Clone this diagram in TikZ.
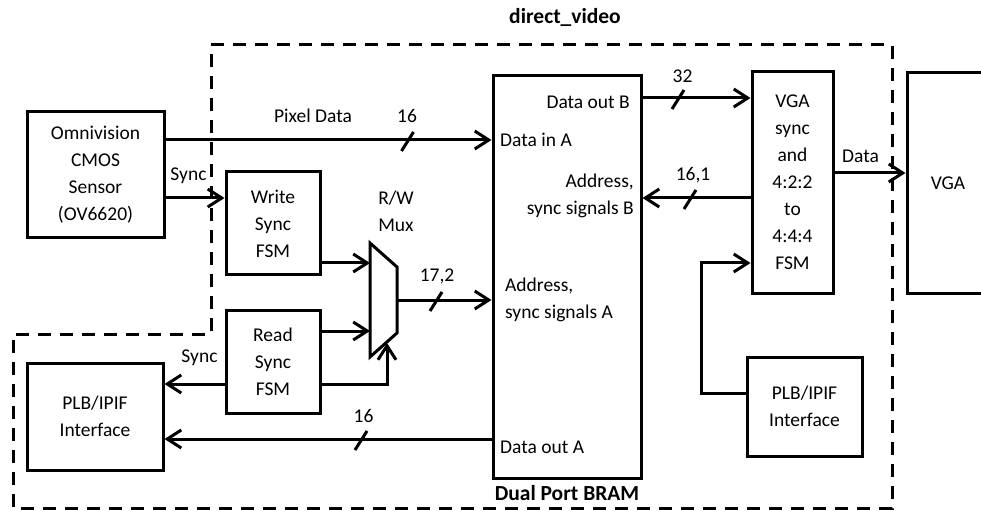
\documentclass[tikz,border=0pt]{standalone}
\usepackage{fontspec}
\setmainfont{Carlito}
\usetikzlibrary{arrows.meta,positioning,calc}
\newcommand\normfont{\fontsize{19.5}{27}\selectfont}
\newcommand\headfont{\fontsize{21.5}{26}\selectfont\bfseries}
\tikzset{
  box/.style={draw=black, line width=3pt, align=center, inner sep=0pt, font=\normfont},
  lbl/.style={inner sep=0pt, align=center, font=\normfont},
  headlbl/.style={inner sep=0pt, font=\headfont},
  arrow/.style={-{Straight Barb[length=14pt,width=18pt]}, line width=3pt},
  plainline/.style={line width=3pt},
  boundary/.style={line width=3pt, dash pattern=on 13pt off 9pt},
  busmark/.pic={\draw[line width=3pt] (-6,11) -- (6,-8);}
}

\begin{document}
\begin{tikzpicture}[x=1pt, y=-1pt]
\useasboundingbox (0,0) rectangle (981,510);
\clip (0,0) rectangle (981,510);

% ip core boundary
\node[headlbl] (title) at (565,17) {direct\_video};
\draw[boundary] (211,45) -- (892,45) -- (892,508) -- (13,508) -- (13,334) -- (211,334) -- cycle;

% blocks
\node[box, minimum width=137pt, minimum height=126pt] (cmos) at (95.5,175) {Omnivision\\CMOS\\Sensor\\(OV6620)};
\node[box, minimum width=94pt, minimum height=103pt] (wsync) at (273,223.5) {Write\\Sync\\FSM};
\node[box, minimum width=94pt, minimum height=103pt] (rsync) at (273,361.5) {Read\\Sync\\FSM};
\node[box, minimum width=136pt, minimum height=107pt] (plbl) at (95,416.5) {PLB/IPIF\\Interface};
\node[box, minimum width=148pt, minimum height=402pt] (bram) at (567,277) {};
\node[headlbl, below=6pt of bram] (bramlbl) {Dual Port BRAM};
\node[box, minimum width=81pt, minimum height=221pt] (vgasync) at (792.5,182.5) {VGA\\sync\\and\\4:2:2\\to\\4:4:4\\FSM};
\node[box, minimum width=82pt, minimum height=220pt] (vga) at (948,183) {VGA};
\node[box, minimum width=115pt, minimum height=99pt] (plbr) at (804.5,406.5) {PLB/IPIF\\Interface};

% r/w mux
\node[minimum width=27pt, minimum height=114pt, inner sep=0pt, outer sep=0pt] (mux) at (383.5,300) {};
\draw[plainline, line join=miter] (mux.north west) -- ([yshift=-24pt]mux.north east) -- ([yshift=24pt]mux.south east) -- (mux.south west) -- cycle;
\node[lbl] (muxlbl) at (396,211) {R/W\\Mux};

% bram port labels
\node[lbl, anchor=east] (doutb) at (630,102) {Data out B};
\node[lbl, anchor=west] (dina) at (500,140) {Data in A};
\node[lbl, anchor=east, align=right] (addrb) at (634,196) {Address,\\sync signals B};
\node[lbl, anchor=west, align=left] (addra) at (505,300) {Address,\\sync signals A};
\node[lbl, anchor=west] (douta) at (500,447) {Data out A};

% levels
\coordinate (ypix) at (0,140);
\coordinate (ysync) at (0,198);
\coordinate (ywr) at (0,263);
\coordinate (yrd) at (0,331);
\coordinate (ysel) at (0,384);
\coordinate (ydoa) at (0,439);
\coordinate (ydob) at (0,98);
\coordinate (ydat) at (0,173);
\coordinate (yplb) at (0,393);
\coordinate (xloop) at (701,0);
\coordinate (muxsel) at (387,343);

% connectors
\draw[arrow] (cmos.east |- ypix) -- (bram.west |- ypix);
\node[lbl] (pixlbl) at (313,116) {Pixel Data};
\node[lbl] (pixw) at (407,116) {16};
\pic at (407.5,140) {busmark};

\draw[arrow] (cmos.east |- ysync) -- (wsync.west |- ysync);
\node[lbl] (synclbl) at (188.5,176) {Sync};

\draw[arrow] (wsync.east |- ywr) -- (mux.west |- ywr);
\draw[arrow] (rsync.east |- yrd) -- (mux.west |- yrd);
\draw[arrow] (rsync.east |- ysel) -| (muxsel);
\draw[arrow] (rsync.west |- ysel) -- (plbl.east |- ysel);
\node[lbl] (rsynclbl) at (199.5,358) {Sync};

\draw[arrow] (mux.east) -- (bram.west |- mux.east);
\node[lbl] (addrw) at (437,276) {17,2};
\pic at (436,300) {busmark};

\draw[arrow] (bram.west |- ydoa) -- (plbl.east |- ydoa);
\node[lbl] (doaw) at (363.5,416) {16};
\pic at (361,439) {busmark};

\draw[arrow] (bram.east |- ydob) -- (vgasync.west |- ydob);
\node[lbl] (dobw) at (682.5,76) {32};
\pic at (678,98) {busmark};

\draw[arrow] (vgasync.west |- ysync) -- (bram.east |- ysync);
\node[lbl] (addrbw) at (693,175) {16,1};
\pic at (690,198) {busmark};

\draw[arrow] (vgasync.east |- ydat) -- (vga.west |- ydat);
\node[lbl] (datlbl) at (860.5,156) {Data};

\draw[arrow] (plbr.west |- yplb) -| (xloop |- ywr) -- (vgasync.west |- ywr);
\end{tikzpicture}
\end{document}
